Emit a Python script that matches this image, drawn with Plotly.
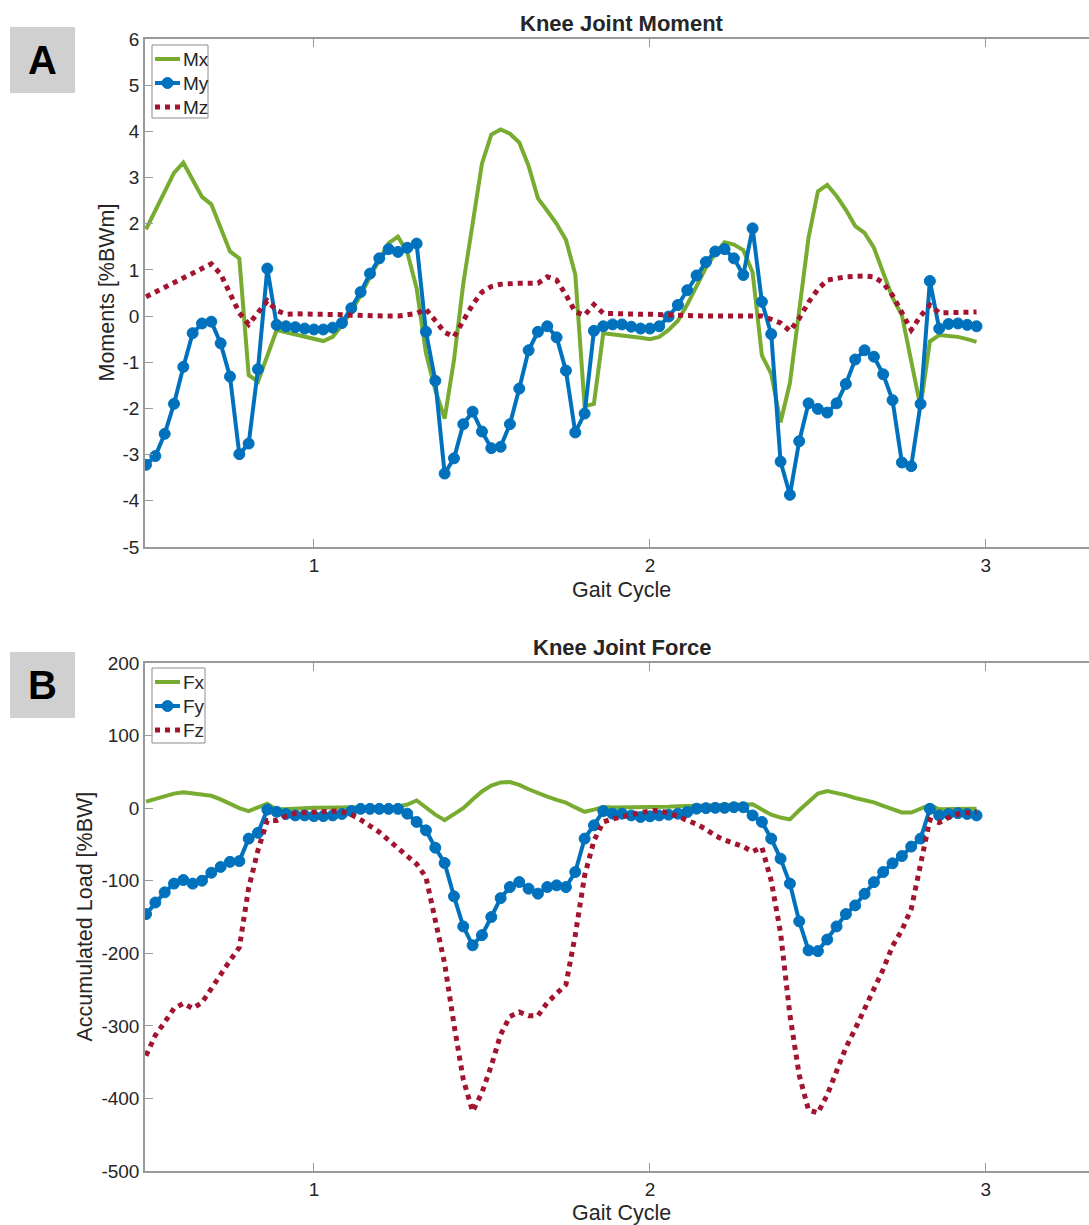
import numpy as np
import plotly.graph_objects as go

# Gait-cycle sampling: 36 frames per cycle, starting at half a cycle
gait = np.round(0.5 + np.arange(90) / 36.0, 4)

# Knee joint moments [%BWm]
mx = [1.88, 2.28, 2.69, 3.10, 3.32, 2.95, 2.58, 2.42, 1.92, 1.40,
      1.25, -1.28, -1.42, -0.85, -0.30, -0.35, -0.40, -0.46, -0.51, -0.54,
      -0.45, -0.20, 0.10, 0.45, 0.85, 1.20, 1.58, 1.72, 1.38, 0.60,
      -0.80, -1.60, -2.22, -0.95, 0.70, 2.00, 3.30, 3.93, 4.04, 3.95,
      3.76, 3.25, 2.55, 2.28, 2.00, 1.65, 0.90, -1.95, -1.90, -0.37,
      -0.39, -0.41, -0.44, -0.47, -0.50, -0.45, -0.30, -0.10, 0.25, 0.65,
      1.05, 1.35, 1.60, 1.55, 1.43, 0.95, -0.85, -1.25, -2.30, -1.45,
      0.20, 1.70, 2.70, 2.84, 2.60, 2.30, 1.95, 1.80, 1.48, 0.95,
      0.40, 0.02, -0.95, -1.97, -0.55, -0.41, -0.43, -0.45, -0.50, -0.56]
my = [-3.22, -3.03, -2.55, -1.90, -1.10, -0.37, -0.16, -0.12, -0.59, -1.31,
      -2.99, -2.76, -1.15, 1.03, -0.19, -0.22, -0.24, -0.27, -0.29, -0.29,
      -0.25, -0.15, 0.17, 0.52, 0.92, 1.25, 1.45, 1.39, 1.48, 1.57,
      -0.34, -1.40, -3.41, -3.08, -2.34, -2.07, -2.50, -2.86, -2.83, -2.34,
      -1.57, -0.74, -0.34, -0.22, -0.46, -1.18, -2.52, -2.11, -0.32, -0.22,
      -0.18, -0.18, -0.23, -0.27, -0.27, -0.22, -0.01, 0.24, 0.56, 0.88,
      1.17, 1.40, 1.45, 1.25, 0.89, 1.90, 0.31, -0.39, -3.15, -3.87,
      -2.71, -1.89, -2.01, -2.09, -1.89, -1.47, -0.94, -0.74, -0.88, -1.26,
      -1.82, -3.17, -3.25, -1.90, 0.76, -0.27, -0.17, -0.16, -0.19, -0.22]
mz = [0.42, 0.52, 0.62, 0.72, 0.83, 0.93, 1.03, 1.13, 0.91, 0.50,
      0.07, -0.18, 0.09, 0.33, 0.12, 0.04, 0.05, 0.05, 0.05, 0.05,
      0.04, 0.03, 0.02, 0.01, 0.00, 0.00, 0.00, 0.00, 0.02, 0.06,
      0.15, -0.12, -0.35, -0.45, -0.12, 0.25, 0.52, 0.64, 0.69, 0.71,
      0.71, 0.71, 0.71, 0.85, 0.78, 0.46, 0.09, 0.02, 0.25, 0.06,
      0.05, 0.05, 0.04, 0.04, 0.04, 0.03, 0.02, 0.02, 0.01, 0.01,
      0.00, 0.00, 0.00, 0.00, -0.01, -0.01, 0.00, -0.07, -0.15, -0.32,
      -0.05, 0.30, 0.58, 0.78, 0.82, 0.85, 0.86, 0.87, 0.85, 0.72,
      0.45, 0.05, -0.30, 0.00, 0.24, 0.07, 0.07, 0.08, 0.09, 0.09]

# Knee joint forces, accumulated load [%BW]
fx = [9, 13, 17, 20, 22, 20.5, 19, 17, 12, 6,
      0, -4, 1, 6, -2, -1, 0, 0, 0.5, 0.5,
      1, 1, 1.5, 1.5, 1.5, 1.5, 1.5, 2, 5, 10.5,
      1, -9, -16.5, -8, 0, 12, 23, 31, 35.5, 36,
      32, 26, 20.5, 16, 11.5, 7.5, 1, -5, -2, 1.5,
      1, 1, 1, 1.5, 1.5, 2, 2, 2.5, 3, 3.5,
      4, 4, 4, 4.5, 5, 5.5, -2, -9, -13, -15.5,
      -3, 9, 20, 23.5, 21, 18, 14, 10.5, 8, 3,
      -1, -6, -6, -1, 4.5, -1.5, -1, -1, -1, -1]
fy = [-146, -130, -116, -104, -99, -104, -100, -89, -81, -74,
      -73, -42, -34, -2, -5, -8, -10, -10, -11, -11,
      -10, -8, -4, -1, -1, -1, -1, -1, -7.6, -19,
      -30.6, -54.5, -75.6, -121.5, -163, -189, -175, -150, -124, -108.7,
      -101.8, -111, -117.8, -108.7, -106.4, -108.7, -88, -42, -23.7, -4,
      -7.6, -7.6, -10, -12.2, -11.3, -10, -9, -7.6, -5.3, -0.7,
      0, 0.4, 0.4, 1.3, 1.3, -10, -19, -42, -69.6, -104,
      -156, -196, -197, -181, -163, -146, -134, -118, -102, -88,
      -76, -66, -53, -42, -1, -10, -8, -7, -8, -10]
fz = [-341, -313, -295, -276, -269, -276, -268, -248, -229, -210,
      -192, -110, -58, -17, -17, -11, -7, -6, -5, -4.5,
      -4, -5, -9, -16, -24, -33, -44, -55, -65, -77,
      -95, -152, -214, -298, -374, -418, -392, -355, -312, -287,
      -281, -286, -286, -268, -255, -243, -175, -93, -45, -19,
      -15, -12, -8, -6, -4, -3, -7, -11, -17, -22,
      -29, -38, -44, -49, -53, -60, -54, -100, -172, -285,
      -368, -416, -420, -395, -360, -330, -304, -277, -252, -222,
      -190, -168, -139, -75, -16, -20, -13, -8, -6.5, -5]

moment_ticks = [-5, -4, -3, -2, -1, 0, 1, 2, 3, 4, 5, 6]
force_ticks = [-500, -400, -300, -200, -100, 0, 100, 200]
cycle_ticks = [1, 2, 3]

GREEN = "#77AC30"
BLUE = "#0072BD"
RED = "#A2142F"
FONT = "Liberation Sans, Arial, Helvetica, sans-serif"
TXT = "#262626"
AXC = "#9a9a9a"
DOTS = "5px,5px"

W, H = 1089, 1225


def px_x(p):
    return p / W


def px_y(p):
    return 1 - p / H


fig = go.Figure()


def add_panel(xs, a, b, c, names, xa, ya):
    fig.add_trace(go.Scatter(x=xs, y=a, name=names[0], mode="lines",
                             line=dict(color=GREEN, width=4),
                             xaxis=xa, yaxis=ya))
    fig.add_trace(go.Scatter(x=xs, y=b, name=names[1], mode="lines+markers",
                             line=dict(color=BLUE, width=4),
                             marker=dict(color=BLUE, size=11,
                                         line=dict(color=BLUE, width=1)),
                             xaxis=xa, yaxis=ya))
    fig.add_trace(go.Scatter(x=xs, y=c, name=names[2], mode="lines",
                             line=dict(color=RED, width=5, dash=DOTS),
                             xaxis=xa, yaxis=ya))


add_panel(gait, mx, my, mz, ["Mx", "My", "Mz"], "x", "y")
add_panel(gait, fx, fy, fz, ["Fx", "Fy", "Fz"], "x2", "y2")


def tick_text(vals):
    # plain hyphen-minus for negative labels
    return [str(v) for v in vals]


xrange = [0.497, 3.307]
xdom = [px_x(145), 1.0]
common_x = dict(range=xrange, tickvals=cycle_ticks, ticktext=tick_text(cycle_ticks),
                ticks="inside", ticklen=8, tickcolor=AXC, tickwidth=1,
                showline=True, linecolor=AXC, linewidth=1.5, mirror="ticks",
                showgrid=False, zeroline=False, automargin=False,
                tickfont=dict(family=FONT, size=19, color=TXT))
common_y = dict(ticks="inside", ticklen=8, tickcolor=AXC, tickwidth=1,
                showline=True, linecolor=AXC, linewidth=1.5,
                showgrid=False, zeroline=False, automargin=False,
                tickfont=dict(family=FONT, size=19, color=TXT))

fig.update_layout(
    width=W, height=H,
    margin=dict(l=0, r=0, t=0, b=0, pad=0, autoexpand=False),
    paper_bgcolor="white", plot_bgcolor="white", showlegend=False,
    xaxis=dict(domain=xdom, anchor="y", **common_x),
    yaxis=dict(domain=[px_y(547), px_y(39)], anchor="x", range=[-5, 6],
               tickvals=moment_ticks, ticktext=tick_text(moment_ticks), **common_y),
    xaxis2=dict(domain=xdom, anchor="y2", **common_x),
    yaxis2=dict(domain=[px_y(1171), px_y(663)], anchor="x2", range=[-500, 200],
                tickvals=force_ticks, ticktext=tick_text(force_ticks), **common_y),
)


def paper_line(x0, y0, x1, y1, color, width, dash="solid"):
    fig.add_shape(type="line", xref="paper", yref="paper",
                  x0=px_x(x0), y0=px_y(y0), x1=px_x(x1), y1=px_y(y1),
                  line=dict(color=color, width=width, dash=dash))


def legend_box(left, top, right, bottom, names):
    fig.add_shape(type="rect", xref="paper", yref="paper",
                  x0=px_x(left), x1=px_x(right), y0=px_y(bottom), y1=px_y(top),
                  fillcolor="white", line=dict(color="#8c8c8c", width=1))
    step = 24
    ys = [top + 14 + k * step for k in range(3)]
    x0, x1 = left + 3, left + 28
    paper_line(x0, ys[0], x1, ys[0], GREEN, 4)
    paper_line(x0, ys[1], x1, ys[1], BLUE, 4)
    cx = (x0 + x1) / 2
    fig.add_shape(type="circle", xref="paper", yref="paper",
                  x0=px_x(cx - 5.5), x1=px_x(cx + 5.5),
                  y0=px_y(ys[1] + 5.5), y1=px_y(ys[1] - 5.5),
                  fillcolor=BLUE, line=dict(color=BLUE, width=1))
    paper_line(x0, ys[2], x1, ys[2] + 0.01, RED, 5, DOTS)
    for name, yy in zip(names, ys):
        fig.add_annotation(x=px_x(x1 + 1), y=px_y(yy), xref="paper", yref="paper",
                           text=name, showarrow=False, xanchor="left",
                           yanchor="middle",
                           font=dict(family=FONT, size=19, color=TXT))


legend_box(152, 45, 208, 118, ["Mx", "My", "Mz"])
legend_box(152, 668, 205, 743, ["Fx", "Fy", "Fz"])

# Panel letters on grey tiles
for top, letter in [(27, "A"), (652, "B")]:
    fig.add_shape(type="rect", xref="paper", yref="paper",
                  x0=px_x(10), x1=px_x(75), y0=px_y(top + 66), y1=px_y(top),
                  fillcolor="#d0d0d0", line=dict(width=0), layer="below")
    fig.add_annotation(x=px_x(42.5), y=px_y(top + 33), xref="paper", yref="paper",
                       text=f"<b>{letter}</b>", showarrow=False,
                       font=dict(family=FONT, size=40, color="black"),
                       xanchor="center", yanchor="middle")

# Titles and axis labels
texts = [
    (622.5, 23, "<b>Knee Joint Moment</b>", 0, 22),
    (622.5, 647, "<b>Knee Joint Force</b>", 0, 22),
    (621.7, 590, "Gait Cycle", 0, 21.5),
    (621.7, 1213, "Gait Cycle", 0, 21.5),
    (106.5, 293, "Moments [%BWm]", -90, 21.5),
    (84.5, 917, "Accumulated Load [%BW]", -90, 21.5),
]
for x, y, t, ang, sz in texts:
    fig.add_annotation(x=px_x(x), y=px_y(y), xref="paper", yref="paper",
                       text=t, showarrow=False, textangle=ang,
                       font=dict(family=FONT, size=sz, color=TXT),
                       xanchor="center", yanchor="middle")

fig.write_html("out.html")
